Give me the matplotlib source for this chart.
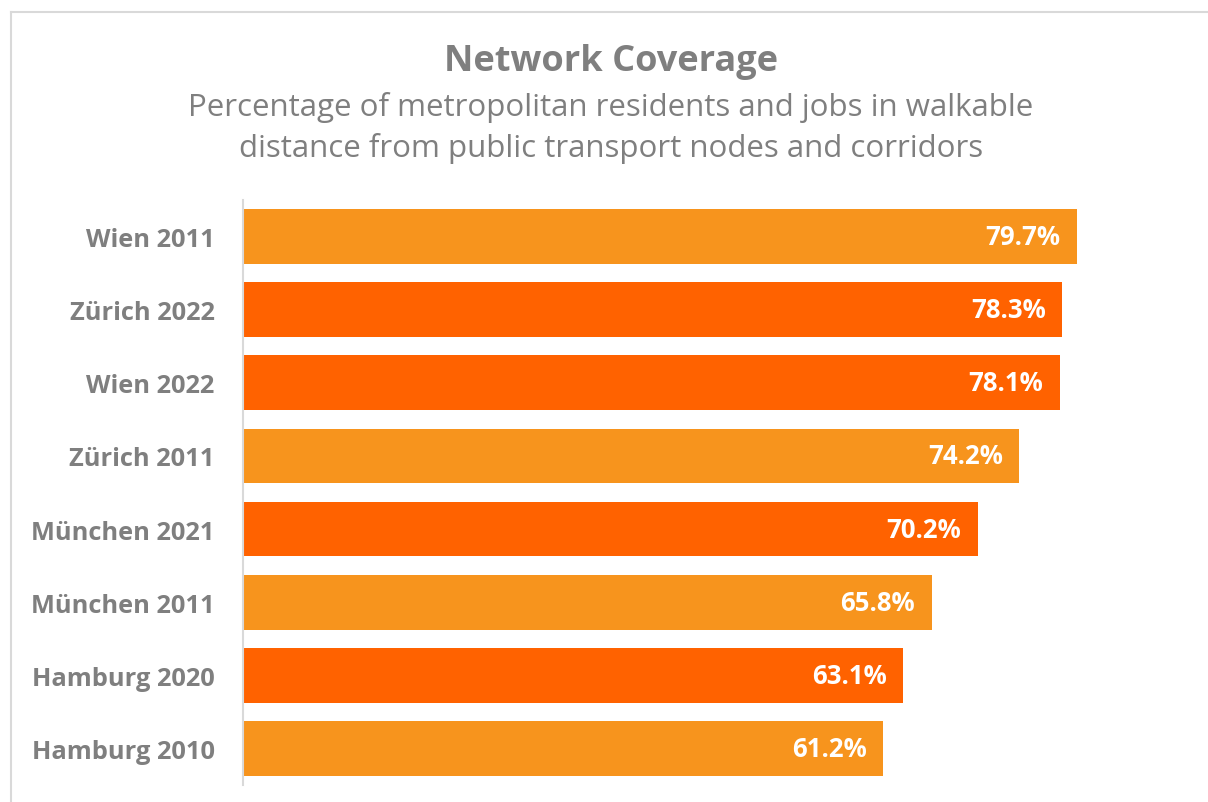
import matplotlib.pyplot as plt
from matplotlib.lines import Line2D

plt.rcParams["font.family"] = ["Open Sans", "DejaVu Sans"]

labels = ["Wien 2011", "Zürich 2022", "Wien 2022", "Zürich 2011",
          "München 2021", "München 2011", "Hamburg 2020", "Hamburg 2010"]
values = [79.7, 78.3, 78.1, 74.2, 70.2, 65.8, 63.1, 61.2]
recent = [False, True, True, False, True, False, True, False]

light = "#F7941D"
dark = "#FF6200"
grey = "#7F7F7F"

W, H = 1208, 803
fig = plt.figure(figsize=(W / 100, H / 100), dpi=100)

# outer chart frame (only top and left edges fall inside the image)
fx, fy = 10.5 / W, 1 - 12.5 / H
fig.lines.append(Line2D([fx, 1], [fy, fy], transform=fig.transFigure,
                        color="#D9D9D9", linewidth=1.5))
fig.lines.append(Line2D([fx, fx], [0, fy], transform=fig.transFigure,
                        color="#D9D9D9", linewidth=1.5))

ax = fig.add_axes([243 / W, 1 - 786 / H, (W - 243) / W, (786 - 201) / H])
ypos = list(range(len(labels)))
colors = [dark if r else light for r in recent]
ax.barh(ypos, values, height=0.75, color=colors)
ax.set_ylim(len(labels) - 0.5, -0.5)
ax.set_xlim(0, (W - 243) / 10.464)

for y, v in zip(ypos, values):
    ax.text(v - 1.6, y, f"{v:.1f}%", ha="right", va="center", color="white",
            fontsize=18.5, fontweight="bold")

ax.set_yticks(ypos)
ax.set_yticklabels(labels, fontsize=18.3, fontweight="bold", color=grey)
ax.tick_params(axis="y", length=0, pad=20.5)
ax.set_xticks([])
for s in ["top", "right", "bottom"]:
    ax.spines[s].set_visible(False)
ax.spines["left"].set_color("#D9D9D9")
ax.spines["left"].set_linewidth(1.5)

fig.text(611 / W, 1 - 62 / H, "Network Coverage", ha="center", va="center",
         fontsize=26, fontweight="bold", color=grey)
fig.text(611 / W, 1 - 128 / H,
         "Percentage of metropolitan residents and jobs in walkable\n"
         "distance from public transport nodes and corridors",
         ha="center", va="center", fontsize=22.5, color=grey, linespacing=1.42)

fig.savefig("out.png", dpi=100)
